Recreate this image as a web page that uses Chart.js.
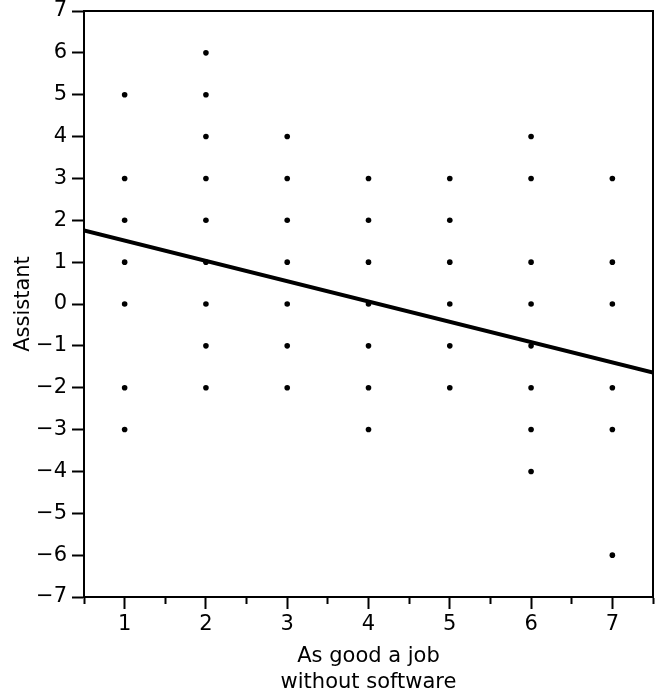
<!DOCTYPE html>
<html>
<head>
<meta charset="utf-8">
<title>Assistant vs. As good a job without software</title>
<script src="https://cdn.jsdelivr.net/npm/chart.js@4/dist/chart.umd.min.js"></script>
<style>
  html, body { margin: 0; padding: 0; background: #ffffff; }
  #wrap { width: 656px; height: 696px; }
</style>
</head>
<body>
<div id="wrap"><canvas id="chart" width="656" height="696"></canvas></div>
<script>
// Rating levels on the horizontal axis
const jobLevels = [1, 2, 3, 4, 5, 6, 7];

// Observed "Assistant" scores at each rating level
const scoresAt1 = [5, 3, 2, 1, 0, -2, -3];
const scoresAt2 = [6, 5, 4, 3, 2, 1, 0, -1, -2];
const scoresAt3 = [4, 3, 2, 1, 0, -1, -2];
const scoresAt4 = [3, 2, 1, 0, -1, -2, -3];
const scoresAt5 = [3, 2, 1, 0, -1, -2];
const scoresAt6 = [4, 3, 1, 0, -1, -2, -3, -4];
const scoresAt7 = [3, 1, 0, -2, -3, -6];
const scoresByLevel = [scoresAt1, scoresAt2, scoresAt3, scoresAt4, scoresAt5, scoresAt6, scoresAt7];

// Fitted regression line, given at the two ends of the axis
const fitX = [0.5, 7.5];
const fitY = [1.76, -1.64];

// Axis labels
const xTitle = ['As good a job', 'without software'];
const yTitle = 'Assistant';

const points = [];
jobLevels.forEach((lvl, i) => {
  scoresByLevel[i].forEach(v => points.push({ x: lvl, y: v }));
});
const fitPoints = fitX.map((x, i) => ({ x: x, y: fitY[i] }));

const FONT = 'DejaVu Sans';
const minusFmt = v => (v < 0 ? '\u2212' + Math.abs(v) : String(v));

// Let the outer tick labels overhang the plot edges instead of shrinking it
const noEdgePadding = s => {
  s.paddingTop = 0;
  s.paddingBottom = 0;
  s.paddingLeft = 0;
  s.paddingRight = 0;
};

new Chart(document.getElementById('chart'), {
  type: 'scatter',
  data: {
    datasets: [
      {
        label: 'Responses',
        data: points,
        pointRadius: 2.8,
        pointHoverRadius: 2.8,
        pointBorderWidth: 0,
        backgroundColor: '#000000',
        borderColor: '#000000',
        order: 2
      },
      {
        label: 'Fit',
        type: 'line',
        data: fitPoints,
        borderColor: '#000000',
        borderWidth: 4,
        pointRadius: 0,
        fill: false,
        tension: 0,
        order: 1
      }
    ]
  },
  options: {
    responsive: false,
    animation: false,
    layout: { padding: { top: 11, right: 3, left: 0, bottom: 0 } },
    plugins: {
      legend: { display: false },
      tooltip: { enabled: false }
    },
    scales: {
      x: {
        type: 'linear',
        position: 'bottom',
        min: 0.5,
        max: 7.5,
        afterFit: s => { s.height = 99; noEdgePadding(s); },
        ticks: {
          stepSize: 0.5,
          autoSkip: false,
          maxRotation: 0,
          padding: 3,
          color: '#000000',
          font: { family: FONT, size: 21 },
          callback: v => (Number.isInteger(v) ? String(v) : '')
        },
        grid: {
          drawOnChartArea: false,
          drawTicks: true,
          tickLength: 12,
          tickWidth: 2,
          tickColor: '#000000',
          tickBorderDash: ctx => (ctx.tick && Number.isInteger(ctx.tick.value) ? [] : [6, 100])
        },
        border: { display: true, color: '#000000', width: 2 },
        title: {
          display: true,
          text: xTitle,
          color: '#000000',
          font: { family: FONT, size: 21, lineHeight: '26px' },
          padding: { top: 0, bottom: 0 }
        }
      },
      y: {
        type: 'linear',
        position: 'left',
        min: -7,
        max: 7,
        afterFit: s => { s.width = 84; noEdgePadding(s); },
        ticks: {
          stepSize: 1,
          autoSkip: false,
          padding: 5,
          color: '#000000',
          font: { family: FONT, size: 21 },
          callback: v => minusFmt(v)
        },
        grid: {
          drawOnChartArea: false,
          drawTicks: true,
          tickLength: 12,
          tickWidth: 2,
          tickColor: '#000000'
        },
        border: { display: true, color: '#000000', width: 2 },
        title: {
          display: true,
          text: yTitle,
          color: '#000000',
          font: { family: FONT, size: 21 },
          padding: { top: 11, bottom: 0 }
        }
      },
      x2: {
        type: 'linear',
        position: 'top',
        min: 0.5,
        max: 7.5,
        afterFit: s => { s.height = 0; noEdgePadding(s); },
        ticks: { display: false },
        grid: { display: false, drawTicks: false },
        border: { display: true, color: '#000000', width: 2 }
      },
      y2: {
        type: 'linear',
        position: 'right',
        min: -7,
        max: 7,
        afterFit: s => { s.width = 0; noEdgePadding(s); },
        ticks: { display: false },
        grid: { display: false, drawTicks: false },
        border: { display: true, color: '#000000', width: 2 }
      }
    }
  }
});
</script>
</body>
</html>
